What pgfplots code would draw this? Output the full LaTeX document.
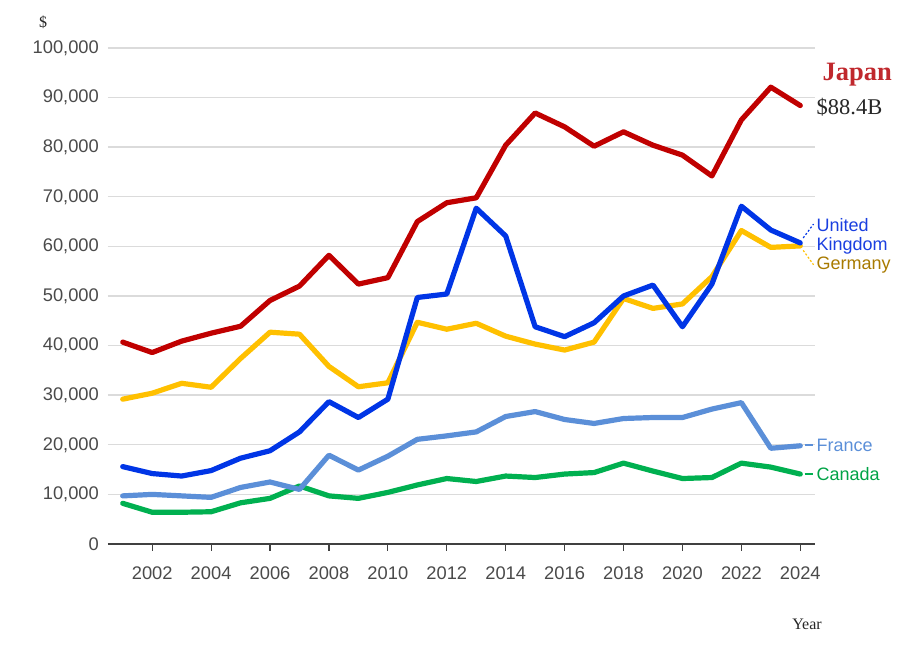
\documentclass[border=0pt]{standalone}
\usepackage{fontspec}
\usepackage{pgfplots}
\pgfplotsset{compat=1.18}
\setmainfont{Liberation Sans}
\newfontfamily\ser{Liberation Serif}
\definecolor{cJP}{HTML}{C00000}
\definecolor{cJPt}{HTML}{C0282D}
\definecolor{cUK}{HTML}{0035E6}
\definecolor{cUKt}{HTML}{1A3FE0}
\definecolor{cDE}{HTML}{FFC000}
\definecolor{cDEt}{HTML}{A87A00}
\definecolor{cFR}{HTML}{5B8FD8}
\definecolor{cCA}{HTML}{00B050}
\definecolor{cCAt}{HTML}{00A346}
\definecolor{ticktext}{HTML}{4A4A4A}
\begin{document}
\begin{tikzpicture}[x=1pt,y=1pt]
\useasboundingbox (0,0) rectangle (914,645);
\begin{axis}[
  at={(108pt,101pt)}, anchor=south west,
  scale only axis, width=707pt, height=496pt,
  xmin=2000.5, xmax=2024.5, ymin=0, ymax=100000,
  clip=false,
  axis x line*=bottom, axis y line*=left,
  y axis line style={draw=none},
  x axis line style={draw=black!75, line width=1.2pt},
  xtick={2002,2004,...,2024},
  xticklabels={2002,2004,2006,2008,2010,2012,2014,2016,2018,2020,2022,2024},
  ytick={0,10000,...,100000},
  yticklabels={0,{10,000},{20,000},{30,000},{40,000},{50,000},{60,000},{70,000},{80,000},{90,000},{100,000}},
  tick align=outside,
  major tick length=7pt,
  xtick style={draw=black!75, line width=1.2pt},
  ytick style={draw=none},
  ymajorgrids,
  grid style={draw=black!14, line width=1.4pt},
  scaled y ticks=false,
  tick label style={font=\fontsize{18.3}{20}\selectfont, text=ticktext},
  x tick label style={inner sep=0pt, yshift=-16pt},
  y tick label style={inner sep=0pt, xshift=-2pt},
  every axis plot/.append style={line width=5.2pt, line join=round, line cap=round, mark=none},
]
% Canada
\addplot[cCA] coordinates {(2001,8200)(2002,6400)(2003,6400)(2004,6500)(2005,8300)(2006,9200)(2007,11700)(2008,9700)(2009,9200)(2010,10400)(2011,11900)(2012,13200)(2013,12600)(2014,13700)(2015,13400)(2016,14100)(2017,14400)(2018,16300)(2019,14700)(2020,13200)(2021,13400)(2022,16300)(2023,15500)(2024,14100)};
% France
\addplot[cFR] coordinates {(2001,9700)(2002,10000)(2003,9700)(2004,9400)(2005,11400)(2006,12500)(2007,11000)(2008,17900)(2009,14900)(2010,17700)(2011,21100)(2012,21800)(2013,22600)(2014,25700)(2015,26700)(2016,25100)(2017,24300)(2018,25300)(2019,25500)(2020,25500)(2021,27200)(2022,28500)(2023,19300)(2024,19800)};
% Germany
\addplot[cDE] coordinates {(2001,29200)(2002,30400)(2003,32400)(2004,31600)(2005,37400)(2006,42700)(2007,42300)(2008,35800)(2009,31700)(2010,32500)(2011,44700)(2012,43300)(2013,44500)(2014,41900)(2015,40300)(2016,39100)(2017,40700)(2018,49500)(2019,47500)(2020,48400)(2021,53900)(2022,63200)(2023,59800)(2024,60100)};
% United Kingdom
\addplot[cUK] coordinates {(2001,15600)(2002,14200)(2003,13700)(2004,14800)(2005,17300)(2006,18800)(2007,22600)(2008,28700)(2009,25500)(2010,29200)(2011,49700)(2012,50400)(2013,67700)(2014,62100)(2015,43800)(2016,41800)(2017,44600)(2018,50000)(2019,52200)(2020,43800)(2021,52400)(2022,68100)(2023,63300)(2024,60700)};
% Japan
\addplot[cJP] coordinates {(2001,40700)(2002,38600)(2003,40900)(2004,42500)(2005,43900)(2006,49100)(2007,52000)(2008,58200)(2009,52400)(2010,53700)(2011,65000)(2012,68800)(2013,69800)(2014,80400)(2015,86900)(2016,84100)(2017,80200)(2018,83100)(2019,80400)(2020,78400)(2021,74200)(2022,85500)(2023,92100)(2024,88400)};
% connectors
\draw[cUK, line width=1.2pt, dash pattern=on 2pt off 2pt] (axis cs:2024.1,61700) -- (axis cs:2024.45,64500);
\draw[cDE, line width=1.2pt, dash pattern=on 2pt off 2pt] (axis cs:2024.1,59200) -- (axis cs:2024.45,56300);
\draw[cFR, line width=1.2pt] (axis cs:2024.15,19950) -- (axis cs:2024.42,19950);
\draw[cCA, line width=1.2pt] (axis cs:2024.15,14100) -- (axis cs:2024.42,14100);
% labels
\node[anchor=west, inner sep=0pt, text=cUKt, font=\fontsize{18}{20}\selectfont] at (axis cs:2024.55,64300) {United};
\node[anchor=west, inner sep=0pt, text=cUKt, font=\fontsize{18}{20}\selectfont] at (axis cs:2024.55,60100) {Kingdom};
\node[anchor=west, inner sep=0pt, text=cDEt, font=\fontsize{18}{20}\selectfont] at (axis cs:2024.55,56250) {Germany};
\node[anchor=west, inner sep=0pt, text=cFR, font=\fontsize{18}{20}\selectfont] at (axis cs:2024.55,19960) {France};
\node[anchor=west, inner sep=0pt, text=cCAt, font=\fontsize{18}{20}\selectfont] at (axis cs:2024.55,14100) {Canada};
\node[anchor=west, inner sep=0pt, text=cJPt, font=\ser\bfseries\fontsize{26.5}{28}\selectfont] at (axis cs:2024.75,94600) {Japan};
\node[anchor=west, inner sep=0pt, text=black!85, font=\ser\fontsize{22.5}{24}\selectfont] at (axis cs:2024.55,88100) {\$88.4B};
\end{axis}
\node[font=\ser\fontsize{16}{18}\selectfont, text=black!85] at (43,623) {\$};
\node[font=\ser\fontsize{16}{18}\selectfont, text=black!85] at (807,21) {Year};
\end{tikzpicture}
\end{document}
